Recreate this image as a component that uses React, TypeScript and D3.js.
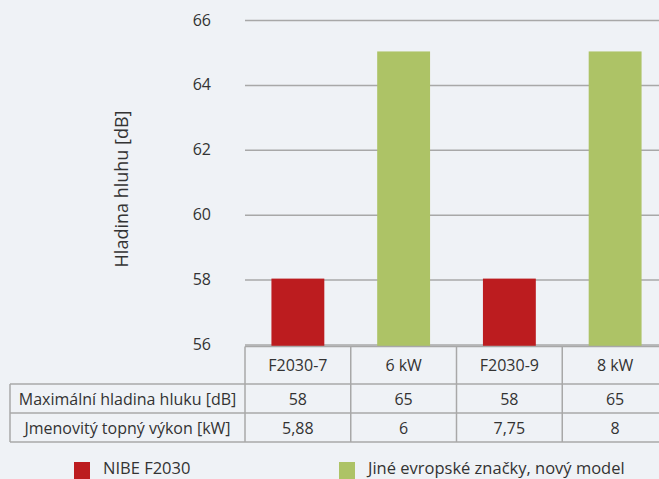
import React, { useEffect, useRef } from "react";
import * as d3 from "d3";

const categories = ["F2030-7", "6 kW", "F2030-9", "8 kW"];
const noiseValues = [58, 65, 58, 65];
const powerLabels = ["5,88", "6", "7,75", "8"];
const noiseLabels = ["58", "65", "58", "65"];
const seriesOf = ["nibe", "other", "nibe", "other"];
const yTicks = [56, 58, 60, 62, 64, 66];
const rowLabels = ["Maximální hladina hluku [dB]", "Jmenovitý topný výkon [kW]"];
const legendItems = [
  { key: "nibe", label: "NIBE F2030" },
  { key: "other", label: "Jiné evropské značky, nový model" },
];

const width = 659;
const height = 479;
const font = "'Open Sans', 'Noto Sans', sans-serif";
const textColor = "#333333";
const lineColor = "#a8a8a8";
const colors: Record<string, string> = { nibe: "#bc1c1f", other: "#adc366" };

const App = () => {
  const svgRef = useRef<SVGSVGElement>(null);

  useEffect(() => {
    const svg = d3.select(svgRef.current);
    svg.selectAll("*").remove();

    const plotLeft = 245;
    const plotRight = 668; // table runs past the right edge
    const tableTop = 346.5;
    const rowH = [37.5, 29, 29];

    const y = d3.scaleLinear().domain([56, 66]).range([345, 20.5]);
    const xBar = d3
      .scaleBand<string>()
      .domain(categories)
      .range([plotLeft, plotRight])
      .paddingInner(0.5)
      .paddingOuter(0.25);
    const xCol = d3.scaleBand<string>().domain(categories).range([plotLeft, plotRight]);

    svg.append("rect").attr("width", width).attr("height", height).attr("fill", "#eff2f6");

    // gridlines
    svg
      .append("g")
      .selectAll("line")
      .data(yTicks)
      .join("line")
      .attr("x1", plotLeft)
      .attr("x2", width)
      .attr("y1", (d) => y(d))
      .attr("y2", (d) => y(d))
      .attr("stroke", lineColor)
      .attr("stroke-width", 1.5);

    // y tick labels
    svg
      .append("g")
      .selectAll("text")
      .data(yTicks)
      .join("text")
      .attr("x", 211)
      .attr("y", (d) => y(d) - 1)
      .attr("text-anchor", "end")
      .attr("dominant-baseline", "central")
      .attr("font-family", font)
      .attr("font-size", 16)
      .attr("fill", textColor)
      .text((d) => d);

    svg
      .append("text")
      .attr("transform", `translate(121,189) rotate(-90)`)
      .attr("text-anchor", "middle")
      .attr("dominant-baseline", "central")
      .attr("font-family", font)
      .attr("font-size", 18)
      .attr("fill", textColor)
      .text("Hladina hluhu [dB]");

    // bars
    svg
      .append("g")
      .selectAll("rect")
      .data(categories)
      .join("rect")
      .attr("x", (d) => xBar(d)!)
      .attr("width", xBar.bandwidth())
      .attr("y", (_, i) => y(noiseValues[i]) - 1.5)
      .attr("height", (_, i) => tableTop - y(noiseValues[i]) + 1.5)
      .attr("fill", (_, i) => colors[seriesOf[i]]);

    // table
    const t = svg.append("g");
    const r1 = tableTop + rowH[0];
    const r2 = r1 + rowH[1];
    const r3 = r2 + rowH[2];
    const tableLeft = 10;
    const hline = (x1: number, x2: number, yy: number) =>
      t.append("line").attr("x1", x1).attr("x2", x2).attr("y1", yy).attr("y2", yy)
        .attr("stroke", lineColor).attr("stroke-width", 1.5);
    const vline = (xx: number, y1: number, y2: number) =>
      t.append("line").attr("x1", xx).attr("x2", xx).attr("y1", y1).attr("y2", y2)
        .attr("stroke", lineColor).attr("stroke-width", 1.5);

    hline(plotLeft, width, tableTop);
    hline(tableLeft, width, r1);
    hline(tableLeft, width, r2);
    hline(tableLeft, width, r3);
    vline(tableLeft, r1, r3);
    vline(plotLeft, tableTop, r3);
    categories.slice(1).forEach((c) => vline(xCol(c)!, tableTop, r3));

    const cellText = (xx: number, yy: number, s: string, anchor = "middle") =>
      t.append("text").attr("x", xx).attr("y", yy)
        .attr("text-anchor", anchor).attr("dominant-baseline", "central")
        .attr("font-family", font).attr("font-size", 16).attr("fill", textColor).text(s);

    categories.forEach((c, i) => {
      const cx = xCol(c)! + xCol.bandwidth() / 2;
      cellText(cx, (tableTop + r1) / 2, c);
      cellText(cx, (r1 + r2) / 2, noiseLabels[i]);
      cellText(cx, (r2 + r3) / 2, powerLabels[i]);
    });
    cellText((tableLeft + plotLeft) / 2, (r1 + r2) / 2, rowLabels[0]);
    cellText((tableLeft + plotLeft) / 2, (r2 + r3) / 2, rowLabels[1]);

    // legend
    const legendX = [74, 339];
    const lg = svg
      .append("g")
      .selectAll("g")
      .data(legendItems)
      .join("g")
      .attr("transform", (_, i) => `translate(${legendX[i]},462)`);
    lg.append("rect").attr("width", 16).attr("height", 17).attr("fill", (d) => colors[d.key]);
    lg.append("text")
      .attr("x", 29)
      .attr("y", 12)
      .attr("font-family", font)
      .attr("font-size", 16.5)
      .attr("fill", textColor)
      .text((d) => d.label);
  }, []);

  return (
    <svg
      ref={svgRef}
      width={width}
      height={height}
      style={{ position: "fixed", left: 0, top: 0, display: "block" }}
    />
  );
};

export default App;
